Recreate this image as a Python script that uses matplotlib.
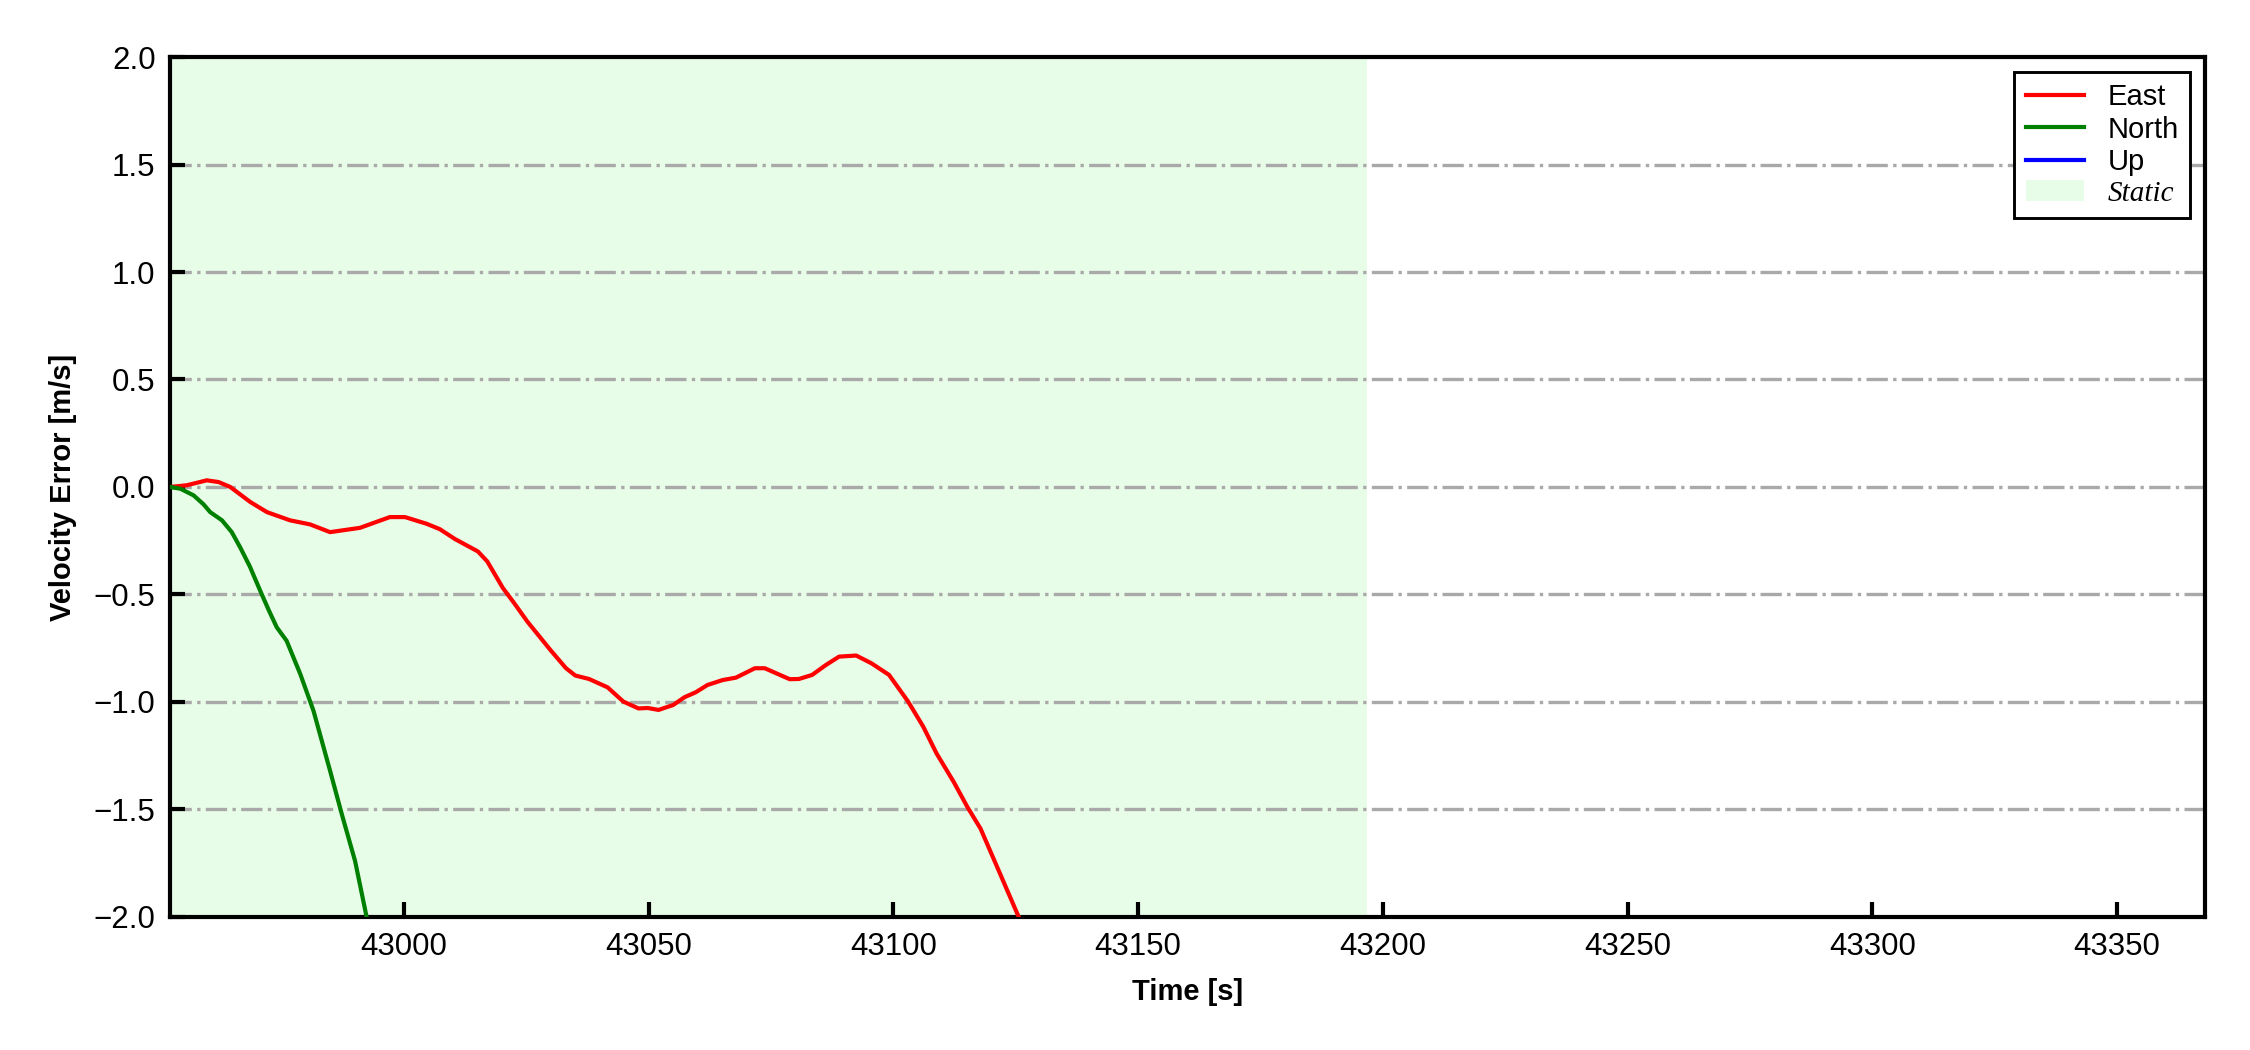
import matplotlib
matplotlib.use("Agg")
import matplotlib.pyplot as plt
import numpy as np

# ---- data ----
east_t = [42952.2, 42955.6, 42959.7, 42962.1, 42964.5, 42968.6, 42972.0, 42976.7,
          42980.8, 42984.9, 42991.0, 42997.1, 43000.2, 43004.6, 43007.3, 43010.4,
          43015.1, 43017.0, 43020.2, 43022.5, 43025.2, 43029.9, 43033.1, 43035.0,
          43037.8, 43041.6, 43044.8, 43047.9, 43049.8, 43052.0, 43055.0, 43057.3,
          43059.6, 43062.0, 43065.1, 43067.8, 43071.7, 43073.7, 43078.8, 43080.7,
          43083.4, 43086.2, 43088.9, 43092.4, 43095.5, 43099.1, 43103.0, 43106.1,
          43108.8, 43112.3, 43115.1, 43117.8, 43120.9, 43125.6, 43127.0]
east_v = [0.0, 0.008, 0.031, 0.023, 0.0, -0.07, -0.117, -0.155,
          -0.174, -0.21, -0.19, -0.14, -0.14, -0.171, -0.196, -0.242,
          -0.30, -0.346, -0.47, -0.54, -0.626, -0.758, -0.843, -0.877,
          -0.893, -0.932, -0.998, -1.03, -1.028, -1.037, -1.014, -0.978,
          -0.955, -0.921, -0.898, -0.887, -0.843, -0.843, -0.894, -0.893,
          -0.874, -0.828, -0.789, -0.784, -0.82, -0.874, -0.998, -1.115,
          -1.239, -1.371, -1.488, -1.589, -1.752, -2.0, -2.05]

north_t = [42952.2, 42954.3, 42957.0, 42959.0, 42960.4, 42962.8, 42964.8, 42966.5,
           42968.5, 42970.6, 42972.3, 42974.0, 42976.0, 42978.8, 42981.5, 42984.9,
           42987.3, 42990.0, 42992.4, 42993.0]
north_v = [0.0, -0.008, -0.039, -0.08, -0.117, -0.155, -0.21, -0.28,
           -0.37, -0.482, -0.57, -0.653, -0.715, -0.87, -1.041, -1.321,
           -1.523, -1.74, -2.005, -2.06]

up_t = []
up_v = []

static_start = 42952.2
static_end = 43196.7

x_limits = (42952.2, 43368.0)
y_limits = (-2.0, 2.0)
x_ticks = [43000, 43050, 43100, 43150, 43200, 43250, 43300, 43350]
y_ticks = [-2.0, -1.5, -1.0, -0.5, 0.0, 0.5, 1.0, 1.5, 2.0]

# ---- figure ----
plt.rcParams['font.family'] = ['Liberation Sans', 'DejaVu Sans']
fig = plt.figure(figsize=(7.5, 3.5), dpi=300)
ax = fig.add_axes([0.0756, 0.1267, 0.9044, 0.819])

ax.axvspan(static_start, static_end, color='#e8fde8', lw=0, label='Static', zorder=0)
ax.plot(east_t, east_v, color='red', lw=1.0, label='East', zorder=3)
ax.plot(north_t, north_v, color='green', lw=1.0, label='North', zorder=3)
ax.plot(up_t, up_v, color='blue', lw=1.0, label='Up', zorder=3)

for yv in y_ticks[1:-1]:
    ax.axhline(yv, color='darkgray', lw=0.8, ls='-.', zorder=1)

ax.set_xlim(*x_limits)
ax.set_ylim(*y_limits)
ax.set_xticks(x_ticks)
ax.set_yticks(y_ticks)
ax.tick_params(direction='in', length=3.5, width=1.0, labelsize=7.5, top=False, right=False)
for s in ax.spines.values():
    s.set_linewidth(1.0)

ax.set_xlabel('Time [s]', fontsize=7, fontweight='bold')
ax.set_ylabel('Velocity Error [m/s]', fontsize=7, fontweight='bold')

handles, labels = ax.get_legend_handles_labels()
order = [labels.index(l) for l in ['East', 'North', 'Up', 'Static']]
leg = ax.legend([handles[i] for i in order], [labels[i] for i in order],
                loc='upper right', fontsize=7, fancybox=False, framealpha=1,
                edgecolor='black', labelspacing=0.15, borderaxespad=0.5)
leg.get_frame().set_linewidth(0.7)
for t in leg.get_texts():
    if t.get_text() == 'Static':
        t.set_fontfamily(['Liberation Serif'])
        t.set_fontstyle('italic')

fig.savefig('out.png', dpi=300)
